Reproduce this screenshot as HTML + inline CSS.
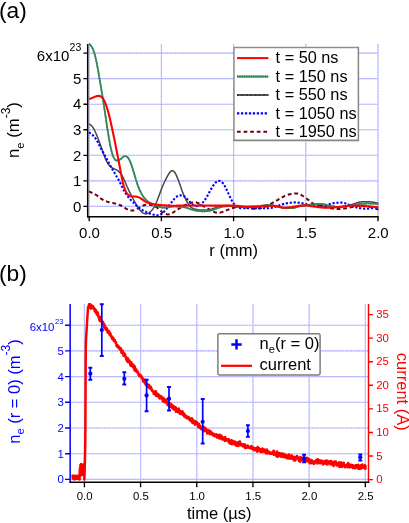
<!DOCTYPE html>
<html><head><meta charset="utf-8"><title>figure</title>
<style>html,body{margin:0;padding:0;background:#fff;}body{width:409px;height:523px;overflow:hidden;font-family:"Liberation Sans",sans-serif;}svg{display:block;will-change:transform;}</style></head>
<body>
<svg width="409" height="523" viewBox="0 0 409 523" font-family="Liberation Sans, sans-serif">
<rect width="409" height="523" fill="#fff" fill-opacity="0"/>
<g id="pa">
<path d="M89.2 206.40H378.0M89.2 180.85H378.0M89.2 155.30H378.0M89.2 129.75H378.0M89.2 104.20H378.0M89.2 78.65H378.0M89.2 53.10H378.0M89.20 44.0V216.7M161.40 44.0V216.7M233.60 44.0V216.7M305.80 44.0V216.7M378.00 44.0V216.7" stroke="#c4c4ff" stroke-width="1.1" fill="none"/>
<path d="M89.2 206.40H378.0M89.2 180.85H378.0M89.2 155.30H378.0M89.2 129.75H378.0M89.2 104.20H378.0M89.2 78.65H378.0M89.2 53.10H378.0M89.20 44.0V216.7M161.40 44.0V216.7M233.60 44.0V216.7M305.80 44.0V216.7M378.00 44.0V216.7" stroke="#adadff" stroke-width="1.1" fill="none" stroke-dasharray="1 1.6"/>
<clipPath id="ca"><rect x="88.60000000000001" y="43.0" width="290.0" height="173.7"/></clipPath>
<g clip-path="url(#ca)" fill="none" stroke-linejoin="round">
<path d="M88.9 191.5 L89.9 191.9 L90.9 192.3 L91.9 192.8 L92.9 193.2 L93.9 193.6 L94.9 194.2 L95.9 194.8 L96.9 195.5 L97.9 196.3 L98.9 197.2 L99.9 197.9 L100.9 198.6 L101.9 199.2 L102.9 199.8 L103.9 200.4 L104.9 200.9 L105.9 201.3 L106.9 201.6 L107.9 201.9 L108.9 202.2 L109.9 202.4 L110.9 202.6 L111.9 202.8 L112.9 203.0 L113.9 203.3 L114.9 203.5 L115.9 203.8 L116.9 204.1 L117.9 204.3 L118.9 204.7 L119.9 205.0 L120.9 205.5 L121.9 206.0 L122.9 206.6 L123.9 207.3 L124.9 207.9 L125.9 208.6 L126.9 209.1 L127.9 209.6 L128.9 210.0 L129.9 210.3 L130.9 210.4 L131.9 210.5 L132.9 210.4 L133.9 210.2 L134.9 209.8 L135.9 209.4 L136.9 208.9 L137.9 208.3 L138.9 207.7 L139.9 207.2 L140.9 206.6 L141.9 206.1 L142.9 205.7 L143.9 205.3 L144.9 205.0 L145.9 204.8 L146.9 204.7 L147.9 204.7 L148.9 204.7 L149.9 204.7 L150.9 204.9 L151.9 205.2 L152.9 205.4 L153.9 205.8 L154.9 206.2 L155.9 206.8 L156.9 207.5 L157.9 208.3 L158.9 209.3 L159.9 210.2 L160.9 211.1 L161.9 212.0 L162.9 212.7 L163.9 213.3 L164.9 213.8 L165.9 214.1 L166.9 214.3 L167.9 214.4 L168.9 214.3 L169.9 214.1 L170.9 213.7 L171.9 213.3 L172.9 212.7 L173.9 212.0 L174.9 211.3 L175.9 210.6 L176.9 209.9 L177.9 209.3 L178.9 208.7 L179.9 208.1 L180.9 207.4 L181.9 206.8 L182.9 206.3 L183.9 205.7 L184.9 205.2 L185.9 204.8 L186.9 204.3 L187.9 203.9 L188.9 203.5 L189.9 203.1 L190.9 202.9 L191.9 202.6 L192.9 202.4 L193.9 202.3 L194.9 202.2 L195.9 202.3 L196.9 202.6 L197.9 203.0 L198.9 203.5 L199.9 204.0 L200.9 204.6 L201.9 205.2 L202.9 205.8 L203.9 206.4 L204.9 207.0 L205.9 207.5 L206.9 208.1 L207.9 208.7 L208.9 209.2 L209.9 209.8 L210.9 210.4 L211.9 210.9 L212.9 211.5 L213.9 211.9 L214.9 212.3 L215.9 212.5 L216.9 212.7 L217.9 212.8 L218.9 212.8 L219.9 212.7 L220.9 212.4 L221.9 212.1 L222.9 211.8 L223.9 211.3 L224.9 210.9 L225.9 210.5 L226.9 210.1 L227.9 209.8 L228.9 209.4 L229.9 209.0 L230.9 208.7 L231.9 208.3 L232.9 208.0 L233.9 207.7 L234.9 207.4 L235.9 207.2 L236.9 207.0 L237.9 206.9 L238.9 206.8 L239.9 206.7 L240.9 206.8 L241.9 206.9 L242.9 207.0 L243.9 207.1 L244.9 207.3 L245.9 207.5 L246.9 207.8 L247.9 208.1 L248.9 208.3 L249.9 208.5 L250.9 208.6 L251.9 208.7 L252.9 208.7 L253.9 208.7 L254.9 208.7 L255.9 208.7 L256.9 208.7 L257.9 208.6 L258.9 208.5 L259.9 208.3 L260.9 208.1 L261.9 207.9 L262.9 207.6 L263.9 207.3 L264.9 206.9 L265.9 206.5 L266.9 206.0 L267.9 205.5 L268.9 205.0 L269.9 204.4 L270.9 203.8 L271.9 203.2 L272.9 202.6 L273.9 202.0 L274.9 201.5 L275.9 200.9 L276.9 200.3 L277.9 199.8 L278.9 199.2 L279.9 198.7 L280.9 198.1 L281.9 197.5 L282.9 197.0 L283.9 196.4 L284.9 195.9 L285.9 195.5 L286.9 195.1 L287.9 194.8 L288.9 194.5 L289.9 194.2 L290.9 194.0 L291.9 193.8 L292.9 193.7 L293.9 193.6 L294.9 193.5 L295.9 193.5 L296.9 193.5 L297.9 193.7 L298.9 194.0 L299.9 194.3 L300.9 194.8 L301.9 195.4 L302.9 196.0 L303.9 196.7 L304.9 197.4 L305.9 198.1 L306.9 198.8 L307.9 199.6 L308.9 200.3 L309.9 201.1 L310.9 201.9 L311.9 202.7 L312.9 203.4 L313.9 204.0 L314.9 204.5 L315.9 204.9 L316.9 205.2 L317.9 205.4 L318.9 205.6 L319.9 205.8 L320.9 205.9 L321.9 206.1 L322.9 206.2 L323.9 206.3 L324.9 206.5 L325.9 206.8 L326.9 207.0 L327.9 207.4 L328.9 207.7 L329.9 208.0 L330.9 208.3 L331.9 208.4 L332.9 208.6 L333.9 208.7 L334.9 208.8 L335.9 208.8 L336.9 208.9 L337.9 208.9 L338.9 209.0 L339.9 209.0 L340.9 208.9 L341.9 208.9 L342.9 208.8 L343.9 208.6 L344.9 208.5 L345.9 208.3 L346.9 208.1 L347.9 207.9 L348.9 207.7 L349.9 207.5 L350.9 207.3 L351.9 207.1 L352.9 206.9 L353.9 206.6 L354.9 206.4 L355.9 206.3 L356.9 206.1 L357.9 206.0 L358.9 206.0 L359.9 205.9 L360.9 205.9 L361.9 205.9 L362.9 205.8 L363.9 205.8 L364.9 205.8 L365.9 205.8 L366.9 206.0 L367.9 206.1 L368.9 206.4 L369.9 206.8 L370.9 207.1 L371.9 207.5 L372.9 207.8 L373.9 208.1 L374.9 208.4 L375.9 208.7 L376.9 209.1 L377.9 209.4 L378.8 209.7" stroke="#70000c" stroke-width="2" stroke-dasharray="3.8 2.8"/>
<path d="M88.9 124.1 L89.9 124.4 L90.9 125.2 L91.9 126.1 L92.9 127.4 L93.9 129.0 L94.9 131.0 L95.9 133.2 L96.9 135.6 L97.9 138.2 L98.9 140.8 L99.9 143.5 L100.9 146.3 L101.9 149.1 L102.9 151.9 L103.9 154.8 L104.9 157.4 L105.9 159.9 L106.9 161.9 L107.9 163.7 L108.9 165.0 L109.9 166.1 L110.9 167.0 L111.9 167.6 L112.9 168.2 L113.9 168.6 L114.9 169.1 L115.9 169.6 L116.9 170.1 L117.9 170.8 L118.9 171.6 L119.9 172.6 L120.9 173.9 L121.9 175.4 L122.9 177.2 L123.9 179.2 L124.9 181.5 L125.9 183.8 L126.9 186.2 L127.9 188.4 L128.9 190.6 L129.9 192.6 L130.9 194.7 L131.9 196.6 L132.9 198.5 L133.9 200.4 L134.9 202.2 L135.9 204.0 L136.9 205.7 L137.9 207.3 L138.9 208.8 L139.9 210.1 L140.9 211.2 L141.9 212.2 L142.9 212.9 L143.9 213.4 L144.9 213.7 L145.9 213.8 L146.9 213.7 L147.9 213.4 L148.9 212.9 L149.9 212.2 L150.9 211.3 L151.9 210.2 L152.9 208.9 L153.9 207.4 L154.9 205.6 L155.9 203.5 L156.9 201.2 L157.9 198.6 L158.9 196.0 L159.9 193.3 L160.9 190.6 L161.9 188.0 L162.9 185.5 L163.9 183.3 L164.9 181.2 L165.9 179.2 L166.9 177.2 L167.9 175.4 L168.9 173.7 L169.9 172.3 L170.9 171.3 L171.9 170.7 L172.9 170.8 L173.9 171.4 L174.9 172.6 L175.9 174.4 L176.9 176.6 L177.9 179.1 L178.9 181.7 L179.9 184.5 L180.9 187.3 L181.9 190.2 L182.9 192.9 L183.9 195.4 L184.9 197.7 L185.9 199.7 L186.9 201.6 L187.9 203.4 L188.9 204.9 L189.9 206.2 L190.9 207.1 L191.9 207.8 L192.9 208.3 L193.9 208.7 L194.9 209.0 L195.9 209.3 L196.9 209.5 L197.9 209.7 L198.9 209.9 L199.9 210.0 L200.9 210.1 L201.9 210.1 L202.9 210.1 L203.9 210.1 L204.9 210.1 L205.9 210.1 L206.9 210.0 L207.9 209.9 L208.9 209.7 L209.9 209.5 L210.9 209.3 L211.9 209.0 L212.9 208.6 L213.9 208.2 L214.9 207.9 L215.9 207.5 L216.9 207.2 L217.9 207.0 L218.9 206.8 L219.9 206.6 L220.9 206.3 L221.9 206.1 L222.9 206.0 L223.9 205.8 L224.9 205.7 L225.9 205.6 L226.9 205.6 L227.9 205.5 L228.9 205.6 L229.9 205.7 L230.9 205.9 L231.9 206.0 L232.9 206.2 L233.9 206.3 L234.9 206.5 L235.9 206.6 L236.9 206.7 L237.9 206.8 L238.9 206.9 L239.9 207.0 L240.9 207.1 L241.9 207.1 L242.9 207.1 L243.9 207.1 L244.9 207.1 L245.9 207.0 L246.9 207.0 L247.9 207.0 L248.9 207.0 L249.9 206.9 L250.9 206.9 L251.9 206.8 L252.9 206.8 L253.9 206.7 L254.9 206.7 L255.9 206.6 L256.9 206.5 L257.9 206.4 L258.9 206.3 L259.9 206.2 L260.9 206.0 L261.9 205.9 L262.9 205.8 L263.9 205.6 L264.9 205.5 L265.9 205.4 L266.9 205.4 L267.9 205.3 L268.9 205.3 L269.9 205.4 L270.9 205.4 L271.9 205.5 L272.9 205.6 L273.9 205.7 L274.9 205.9 L275.9 206.0 L276.9 206.2 L277.9 206.4 L278.9 206.7 L279.9 207.0 L280.9 207.2 L281.9 207.5 L282.9 207.7 L283.9 207.9 L284.9 208.0 L285.9 208.0 L286.9 208.0 L287.9 208.0 L288.9 208.0 L289.9 208.0 L290.9 208.0 L291.9 208.0 L292.9 207.9 L293.9 207.7 L294.9 207.5 L295.9 207.2 L296.9 206.9 L297.9 206.6 L298.9 206.3 L299.9 206.1 L300.9 205.9 L301.9 205.7 L302.9 205.6 L303.9 205.5 L304.9 205.3 L305.9 205.2 L306.9 205.1 L307.9 205.0 L308.9 204.8 L309.9 204.7 L310.9 204.6 L311.9 204.5 L312.9 204.4 L313.9 204.3 L314.9 204.2 L315.9 204.2 L316.9 204.1 L317.9 204.1 L318.9 204.1 L319.9 204.0 L320.9 204.0 L321.9 204.0 L322.9 204.1 L323.9 204.3 L324.9 204.5 L325.9 204.8 L326.9 205.2 L327.9 205.5 L328.9 205.7 L329.9 205.9 L330.9 206.1 L331.9 206.3 L332.9 206.4 L333.9 206.5 L334.9 206.7 L335.9 206.8 L336.9 206.9 L337.9 206.9 L338.9 207.0 L339.9 207.0 L340.9 206.9 L341.9 206.8 L342.9 206.7 L343.9 206.5 L344.9 206.3 L345.9 206.0 L346.9 205.8 L347.9 205.5 L348.9 205.3 L349.9 205.0 L350.9 204.7 L351.9 204.4 L352.9 204.1 L353.9 203.8 L354.9 203.4 L355.9 203.1 L356.9 202.8 L357.9 202.5 L358.9 202.3 L359.9 202.1 L360.9 201.9 L361.9 201.8 L362.9 201.7 L363.9 201.7 L364.9 201.7 L365.9 201.7 L366.9 201.7 L367.9 201.7 L368.9 201.7 L369.9 201.8 L370.9 201.9 L371.9 202.0 L372.9 202.2 L373.9 202.3 L374.9 202.5 L375.9 202.7 L376.9 202.9 L377.9 203.2 L378.8 203.4" stroke="#474747" stroke-width="1.5"/>
<path d="M88.9 132.4 L89.9 133.0 L90.9 133.7 L91.9 134.4 L92.9 135.3 L93.9 136.4 L94.9 137.6 L95.9 139.0 L96.9 140.5 L97.9 142.3 L98.9 144.3 L99.9 146.4 L100.9 148.4 L101.9 150.3 L102.9 152.1 L103.9 153.9 L104.9 155.6 L105.9 157.4 L106.9 159.2 L107.9 161.1 L108.9 163.1 L109.9 164.9 L110.9 166.7 L111.9 168.4 L112.9 170.1 L113.9 171.8 L114.9 173.6 L115.9 175.3 L116.9 177.0 L117.9 178.7 L118.9 180.4 L119.9 182.3 L120.9 184.3 L121.9 186.5 L122.9 188.5 L123.9 190.4 L124.9 192.1 L125.9 193.7 L126.9 195.1 L127.9 196.5 L128.9 197.8 L129.9 199.0 L130.9 200.1 L131.9 201.1 L132.9 202.1 L133.9 203.1 L134.9 204.1 L135.9 205.1 L136.9 206.1 L137.9 207.0 L138.9 207.9 L139.9 208.7 L140.9 209.4 L141.9 209.9 L142.9 210.4 L143.9 210.9 L144.9 211.4 L145.9 211.9 L146.9 212.4 L147.9 212.8 L148.9 213.2 L149.9 213.6 L150.9 213.9 L151.9 214.2 L152.9 214.5 L153.9 214.7 L154.9 214.9 L155.9 215.1 L156.9 215.2 L157.9 215.2 L158.9 215.1 L159.9 214.8 L160.9 214.3 L161.9 213.6 L162.9 212.8 L163.9 211.8 L164.9 210.7 L165.9 209.6 L166.9 208.4 L167.9 207.2 L168.9 205.8 L169.9 204.5 L170.9 203.2 L171.9 201.9 L172.9 200.6 L173.9 199.4 L174.9 198.2 L175.9 197.2 L176.9 196.5 L177.9 195.9 L178.9 195.6 L179.9 195.4 L180.9 195.4 L181.9 195.5 L182.9 195.7 L183.9 196.1 L184.9 196.8 L185.9 197.6 L186.9 198.8 L187.9 199.9 L188.9 201.0 L189.9 202.0 L190.9 202.9 L191.9 203.8 L192.9 204.6 L193.9 205.2 L194.9 205.7 L195.9 206.0 L196.9 206.1 L197.9 206.0 L198.9 205.7 L199.9 205.2 L200.9 204.5 L201.9 203.6 L202.9 202.4 L203.9 201.2 L204.9 199.8 L205.9 198.3 L206.9 196.7 L207.9 194.9 L208.9 193.1 L209.9 191.2 L210.9 189.4 L211.9 187.7 L212.9 186.1 L213.9 184.6 L214.9 183.4 L215.9 182.3 L216.9 181.6 L217.9 181.1 L218.9 180.9 L219.9 181.0 L220.9 181.4 L221.9 182.1 L222.9 183.2 L223.9 184.6 L224.9 186.3 L225.9 188.2 L226.9 190.2 L227.9 192.4 L228.9 194.6 L229.9 196.7 L230.9 198.8 L231.9 200.7 L232.9 202.4 L233.9 203.9 L234.9 205.1 L235.9 206.0 L236.9 206.8 L237.9 207.4 L238.9 207.8 L239.9 208.1 L240.9 208.2 L241.9 208.3 L242.9 208.3 L243.9 208.3 L244.9 208.3 L245.9 208.3 L246.9 208.2 L247.9 208.1 L248.9 208.0 L249.9 207.9 L250.9 207.9 L251.9 208.0 L252.9 208.0 L253.9 208.1 L254.9 208.1 L255.9 208.1 L256.9 208.2 L257.9 208.2 L258.9 208.2 L259.9 208.2 L260.9 208.3 L261.9 208.3 L262.9 208.3 L263.9 208.3 L264.9 208.3 L265.9 208.3 L266.9 208.2 L267.9 208.2 L268.9 208.1 L269.9 208.0 L270.9 207.9 L271.9 207.7 L272.9 207.6 L273.9 207.3 L274.9 207.0 L275.9 206.6 L276.9 206.2 L277.9 205.9 L278.9 205.5 L279.9 205.1 L280.9 204.8 L281.9 204.5 L282.9 204.1 L283.9 203.9 L284.9 203.6 L285.9 203.4 L286.9 203.2 L287.9 203.1 L288.9 202.9 L289.9 202.8 L290.9 202.7 L291.9 202.6 L292.9 202.5 L293.9 202.5 L294.9 202.4 L295.9 202.4 L296.9 202.5 L297.9 202.6 L298.9 202.7 L299.9 202.9 L300.9 203.1 L301.9 203.2 L302.9 203.4 L303.9 203.6 L304.9 203.8 L305.9 204.1 L306.9 204.3 L307.9 204.5 L308.9 204.7 L309.9 204.9 L310.9 205.1 L311.9 205.2 L312.9 205.4 L313.9 205.5 L314.9 205.6 L315.9 205.7 L316.9 205.8 L317.9 205.8 L318.9 205.8 L319.9 205.9 L320.9 205.9 L321.9 205.8 L322.9 205.7 L323.9 205.6 L324.9 205.3 L325.9 205.0 L326.9 204.7 L327.9 204.4 L328.9 204.2 L329.9 203.9 L330.9 203.7 L331.9 203.5 L332.9 203.3 L333.9 203.1 L334.9 203.0 L335.9 202.9 L336.9 202.8 L337.9 202.7 L338.9 202.6 L339.9 202.5 L340.9 202.6 L341.9 202.6 L342.9 202.8 L343.9 203.0 L344.9 203.2 L345.9 203.5 L346.9 203.8 L347.9 204.2 L348.9 204.7 L349.9 205.1 L350.9 205.6 L351.9 206.0 L352.9 206.3 L353.9 206.6 L354.9 207.0 L355.9 207.2 L356.9 207.5 L357.9 207.7 L358.9 207.9 L359.9 208.1 L360.9 208.2 L361.9 208.4 L362.9 208.5 L363.9 208.6 L364.9 208.6 L365.9 208.7 L366.9 208.7 L367.9 208.6 L368.9 208.5 L369.9 208.4 L370.9 208.3 L371.9 208.2 L372.9 208.0 L373.9 207.9 L374.9 207.8 L375.9 207.7 L376.9 207.6 L377.9 207.4 L378.8 207.3" stroke="#0000ff" stroke-width="2.1" stroke-dasharray="2.2 1.75"/>
<path d="M88.9 43.9 L89.9 44.4 L90.9 45.7 L91.9 47.1 L92.9 49.1 L93.9 51.7 L94.9 55.0 L95.9 59.1 L96.9 63.9 L97.9 69.2 L98.9 74.9 L99.9 80.9 L100.9 86.9 L101.9 92.8 L102.9 98.9 L103.9 105.3 L104.9 112.0 L105.9 118.8 L106.9 125.5 L107.9 131.9 L108.9 138.0 L109.9 143.6 L110.9 148.5 L111.9 152.5 L112.9 155.7 L113.9 158.0 L114.9 159.5 L115.9 160.3 L116.9 160.6 L117.9 160.5 L118.9 160.2 L119.9 159.6 L120.9 158.8 L121.9 157.9 L122.9 157.1 L123.9 156.5 L124.9 156.2 L125.9 156.2 L126.9 156.7 L127.9 157.6 L128.9 159.1 L129.9 161.0 L130.9 163.4 L131.9 166.2 L132.9 169.4 L133.9 172.7 L134.9 176.2 L135.9 179.6 L136.9 182.7 L137.9 185.6 L138.9 188.2 L139.9 190.5 L140.9 192.6 L141.9 194.5 L142.9 196.1 L143.9 197.5 L144.9 198.7 L145.9 199.7 L146.9 200.6 L147.9 201.4 L148.9 202.1 L149.9 202.7 L150.9 203.3 L151.9 203.8 L152.9 204.3 L153.9 204.7 L154.9 205.1 L155.9 205.5 L156.9 205.9 L157.9 206.3 L158.9 206.6 L159.9 206.9 L160.9 207.2 L161.9 207.4 L162.9 207.6 L163.9 207.6 L164.9 207.6 L165.9 207.5 L166.9 207.4 L167.9 207.3 L168.9 207.2 L169.9 207.0 L170.9 206.9 L171.9 206.7 L172.9 206.6 L173.9 206.5 L174.9 206.4 L175.9 206.5 L176.9 206.5 L177.9 206.6 L178.9 206.7 L179.9 206.8 L180.9 206.9 L181.9 207.0 L182.9 207.1 L183.9 207.2 L184.9 207.3 L185.9 207.6 L186.9 207.9 L187.9 208.2 L188.9 208.6 L189.9 208.9 L190.9 209.3 L191.9 209.6 L192.9 209.9 L193.9 210.2 L194.9 210.4 L195.9 210.6 L196.9 210.8 L197.9 210.9 L198.9 211.0 L199.9 211.1 L200.9 211.2 L201.9 211.3 L202.9 211.3 L203.9 211.3 L204.9 211.3 L205.9 211.2 L206.9 211.2 L207.9 211.1 L208.9 211.0 L209.9 210.8 L210.9 210.5 L211.9 210.2 L212.9 209.9 L213.9 209.5 L214.9 209.1 L215.9 208.7 L216.9 208.3 L217.9 208.0 L218.9 207.6 L219.9 207.4 L220.9 207.1 L221.9 206.8 L222.9 206.6 L223.9 206.5 L224.9 206.3 L225.9 206.3 L226.9 206.2 L227.9 206.2 L228.9 206.1 L229.9 206.1 L230.9 206.1 L231.9 206.1 L232.9 206.1 L233.9 206.1 L234.9 206.2 L235.9 206.2 L236.9 206.2 L237.9 206.3 L238.9 206.3 L239.9 206.4 L240.9 206.4 L241.9 206.4 L242.9 206.5 L243.9 206.5 L244.9 206.5 L245.9 206.5 L246.9 206.5 L247.9 206.5 L248.9 206.5 L249.9 206.5 L250.9 206.4 L251.9 206.4 L252.9 206.4 L253.9 206.4 L254.9 206.3 L255.9 206.3 L256.9 206.3 L257.9 206.2 L258.9 206.1 L259.9 206.0 L260.9 205.9 L261.9 205.7 L262.9 205.6 L263.9 205.4 L264.9 205.3 L265.9 205.2 L266.9 205.1 L267.9 205.0 L268.9 205.0 L269.9 205.1 L270.9 205.1 L271.9 205.2 L272.9 205.3 L273.9 205.5 L274.9 205.6 L275.9 205.8 L276.9 206.0 L277.9 206.3 L278.9 206.6 L279.9 207.0 L280.9 207.4 L281.9 207.7 L282.9 208.0 L283.9 208.1 L284.9 208.2 L285.9 208.2 L286.9 208.2 L287.9 208.2 L288.9 208.2 L289.9 208.2 L290.9 208.2 L291.9 208.2 L292.9 208.1 L293.9 207.9 L294.9 207.6 L295.9 207.3 L296.9 207.0 L297.9 206.7 L298.9 206.4 L299.9 206.2 L300.9 206.0 L301.9 205.9 L302.9 205.7 L303.9 205.6 L304.9 205.5 L305.9 205.4 L306.9 205.2 L307.9 205.1 L308.9 205.0 L309.9 204.9 L310.9 204.7 L311.9 204.6 L312.9 204.6 L313.9 204.5 L314.9 204.4 L315.9 204.4 L316.9 204.3 L317.9 204.3 L318.9 204.3 L319.9 204.2 L320.9 204.2 L321.9 204.2 L322.9 204.3 L323.9 204.5 L324.9 204.7 L325.9 205.0 L326.9 205.2 L327.9 205.5 L328.9 205.8 L329.9 206.0 L330.9 206.1 L331.9 206.3 L332.9 206.4 L333.9 206.5 L334.9 206.7 L335.9 206.8 L336.9 206.8 L337.9 206.9 L338.9 207.0 L339.9 207.0 L340.9 206.9 L341.9 206.9 L342.9 206.8 L343.9 206.6 L344.9 206.5 L345.9 206.3 L346.9 206.1 L347.9 205.9 L348.9 205.7 L349.9 205.5 L350.9 205.3 L351.9 205.2 L352.9 205.0 L353.9 204.8 L354.9 204.6 L355.9 204.5 L356.9 204.3 L357.9 204.2 L358.9 204.1 L359.9 203.9 L360.9 203.8 L361.9 203.7 L362.9 203.6 L363.9 203.5 L364.9 203.5 L365.9 203.4 L366.9 203.4 L367.9 203.4 L368.9 203.4 L369.9 203.5 L370.9 203.5 L371.9 203.5 L372.9 203.6 L373.9 203.7 L374.9 203.7 L375.9 203.8 L376.9 203.9 L377.9 204.1 L378.8 204.2" stroke="#409668" stroke-width="1.75"/>
<path d="M88.9 43.9 L89.9 44.4 L90.9 45.7 L91.9 47.1 L92.9 49.1 L93.9 51.7 L94.9 55.0 L95.9 59.1 L96.9 63.9 L97.9 69.2 L98.9 74.9 L99.9 80.9 L100.9 86.9 L101.9 92.8 L102.9 98.9 L103.9 105.3 L104.9 112.0 L105.9 118.8 L106.9 125.5 L107.9 131.9 L108.9 138.0 L109.9 143.6 L110.9 148.5 L111.9 152.5 L112.9 155.7 L113.9 158.0 L114.9 159.5 L115.9 160.3 L116.9 160.6 L117.9 160.5 L118.9 160.2 L119.9 159.6 L120.9 158.8 L121.9 157.9 L122.9 157.1 L123.9 156.5 L124.9 156.2 L125.9 156.2 L126.9 156.7 L127.9 157.6 L128.9 159.1 L129.9 161.0 L130.9 163.4 L131.9 166.2 L132.9 169.4 L133.9 172.7 L134.9 176.2 L135.9 179.6 L136.9 182.7 L137.9 185.6 L138.9 188.2 L139.9 190.5 L140.9 192.6 L141.9 194.5 L142.9 196.1 L143.9 197.5 L144.9 198.7 L145.9 199.7 L146.9 200.6 L147.9 201.4 L148.9 202.1 L149.9 202.7 L150.9 203.3 L151.9 203.8 L152.9 204.3 L153.9 204.7 L154.9 205.1 L155.9 205.5 L156.9 205.9 L157.9 206.3 L158.9 206.6 L159.9 206.9 L160.9 207.2 L161.9 207.4 L162.9 207.6 L163.9 207.6 L164.9 207.6 L165.9 207.5 L166.9 207.4 L167.9 207.3 L168.9 207.2 L169.9 207.0 L170.9 206.9 L171.9 206.7 L172.9 206.6 L173.9 206.5 L174.9 206.4 L175.9 206.5 L176.9 206.5 L177.9 206.6 L178.9 206.7 L179.9 206.8 L180.9 206.9 L181.9 207.0 L182.9 207.1 L183.9 207.2 L184.9 207.3 L185.9 207.6 L186.9 207.9 L187.9 208.2 L188.9 208.6 L189.9 208.9 L190.9 209.3 L191.9 209.6 L192.9 209.9 L193.9 210.2 L194.9 210.4 L195.9 210.6 L196.9 210.8 L197.9 210.9 L198.9 211.0 L199.9 211.1 L200.9 211.2 L201.9 211.3 L202.9 211.3 L203.9 211.3 L204.9 211.3 L205.9 211.2 L206.9 211.2 L207.9 211.1 L208.9 211.0 L209.9 210.8 L210.9 210.5 L211.9 210.2 L212.9 209.9 L213.9 209.5 L214.9 209.1 L215.9 208.7 L216.9 208.3 L217.9 208.0 L218.9 207.6 L219.9 207.4 L220.9 207.1 L221.9 206.8 L222.9 206.6 L223.9 206.5 L224.9 206.3 L225.9 206.3 L226.9 206.2 L227.9 206.2 L228.9 206.1 L229.9 206.1 L230.9 206.1 L231.9 206.1 L232.9 206.1 L233.9 206.1 L234.9 206.2 L235.9 206.2 L236.9 206.2 L237.9 206.3 L238.9 206.3 L239.9 206.4 L240.9 206.4 L241.9 206.4 L242.9 206.5 L243.9 206.5 L244.9 206.5 L245.9 206.5 L246.9 206.5 L247.9 206.5 L248.9 206.5 L249.9 206.5 L250.9 206.4 L251.9 206.4 L252.9 206.4 L253.9 206.4 L254.9 206.3 L255.9 206.3 L256.9 206.3 L257.9 206.2 L258.9 206.1 L259.9 206.0 L260.9 205.9 L261.9 205.7 L262.9 205.6 L263.9 205.4 L264.9 205.3 L265.9 205.2 L266.9 205.1 L267.9 205.0 L268.9 205.0 L269.9 205.1 L270.9 205.1 L271.9 205.2 L272.9 205.3 L273.9 205.5 L274.9 205.6 L275.9 205.8 L276.9 206.0 L277.9 206.3 L278.9 206.6 L279.9 207.0 L280.9 207.4 L281.9 207.7 L282.9 208.0 L283.9 208.1 L284.9 208.2 L285.9 208.2 L286.9 208.2 L287.9 208.2 L288.9 208.2 L289.9 208.2 L290.9 208.2 L291.9 208.2 L292.9 208.1 L293.9 207.9 L294.9 207.6 L295.9 207.3 L296.9 207.0 L297.9 206.7 L298.9 206.4 L299.9 206.2 L300.9 206.0 L301.9 205.9 L302.9 205.7 L303.9 205.6 L304.9 205.5 L305.9 205.4 L306.9 205.2 L307.9 205.1 L308.9 205.0 L309.9 204.9 L310.9 204.7 L311.9 204.6 L312.9 204.6 L313.9 204.5 L314.9 204.4 L315.9 204.4 L316.9 204.3 L317.9 204.3 L318.9 204.3 L319.9 204.2 L320.9 204.2 L321.9 204.2 L322.9 204.3 L323.9 204.5 L324.9 204.7 L325.9 205.0 L326.9 205.2 L327.9 205.5 L328.9 205.8 L329.9 206.0 L330.9 206.1 L331.9 206.3 L332.9 206.4 L333.9 206.5 L334.9 206.7 L335.9 206.8 L336.9 206.8 L337.9 206.9 L338.9 207.0 L339.9 207.0 L340.9 206.9 L341.9 206.9 L342.9 206.8 L343.9 206.6 L344.9 206.5 L345.9 206.3 L346.9 206.1 L347.9 205.9 L348.9 205.7 L349.9 205.5 L350.9 205.3 L351.9 205.2 L352.9 205.0 L353.9 204.8 L354.9 204.6 L355.9 204.5 L356.9 204.3 L357.9 204.2 L358.9 204.1 L359.9 203.9 L360.9 203.8 L361.9 203.7 L362.9 203.6 L363.9 203.5 L364.9 203.5 L365.9 203.4 L366.9 203.4 L367.9 203.4 L368.9 203.4 L369.9 203.5 L370.9 203.5 L371.9 203.5 L372.9 203.6 L373.9 203.7 L374.9 203.7 L375.9 203.8 L376.9 203.9 L377.9 204.1 L378.8 204.2" stroke="#277f50" stroke-width="1.75" stroke-dasharray="1 0.75"/>
<path d="M88.9 98.9 L89.9 98.7 L90.9 98.4 L91.9 98.0 L92.9 97.6 L93.9 97.2 L94.9 96.8 L95.9 96.4 L96.9 96.1 L97.9 96.0 L98.9 95.9 L99.9 96.1 L100.9 96.5 L101.9 97.3 L102.9 98.4 L103.9 100.0 L104.9 102.1 L105.9 104.5 L106.9 107.5 L107.9 110.8 L108.9 114.5 L109.9 118.5 L110.9 122.9 L111.9 127.5 L112.9 132.2 L113.9 136.9 L114.9 141.8 L115.9 146.9 L116.9 152.0 L117.9 157.1 L118.9 162.2 L119.9 167.5 L120.9 172.9 L121.9 178.1 L122.9 182.7 L123.9 186.5 L124.9 189.4 L125.9 191.7 L126.9 193.3 L127.9 194.5 L128.9 195.4 L129.9 195.9 L130.9 196.2 L131.9 196.4 L132.9 196.5 L133.9 196.5 L134.9 196.5 L135.9 196.6 L136.9 196.8 L137.9 197.0 L138.9 197.4 L139.9 197.9 L140.9 198.5 L141.9 199.2 L142.9 199.9 L143.9 200.7 L144.9 201.3 L145.9 201.9 L146.9 202.4 L147.9 202.8 L148.9 203.2 L149.9 203.5 L150.9 203.7 L151.9 203.9 L152.9 204.1 L153.9 204.3 L154.9 204.5 L155.9 204.6 L156.9 204.7 L157.9 204.8 L158.9 204.9 L159.9 205.0 L160.9 205.1 L161.9 205.2 L162.9 205.3 L163.9 205.3 L164.9 205.4 L165.9 205.4 L166.9 205.5 L167.9 205.5 L168.9 205.6 L169.9 205.6 L170.9 205.7 L171.9 205.7 L172.9 205.7 L173.9 205.7 L174.9 205.7 L175.9 205.7 L176.9 205.6 L177.9 205.6 L178.9 205.6 L179.9 205.6 L180.9 205.5 L181.9 205.5 L182.9 205.5 L183.9 205.5 L184.9 205.5 L185.9 205.5 L186.9 205.5 L187.9 205.5 L188.9 205.5 L189.9 205.5 L190.9 205.5 L191.9 205.5 L192.9 205.5 L193.9 205.5 L194.9 205.5 L195.9 205.5 L196.9 205.5 L197.9 205.5 L198.9 205.5 L199.9 205.5 L200.9 205.5 L201.9 205.5 L202.9 205.5 L203.9 205.5 L204.9 205.5 L205.9 205.5 L206.9 205.5 L207.9 205.5 L208.9 205.5 L209.9 205.5 L210.9 205.6 L211.9 205.6 L212.9 205.6 L213.9 205.6 L214.9 205.6 L215.9 205.6 L216.9 205.6 L217.9 205.6 L218.9 205.6 L219.9 205.6 L220.9 205.6 L221.9 205.6 L222.9 205.6 L223.9 205.6 L224.9 205.6 L225.9 205.6 L226.9 205.6 L227.9 205.6 L228.9 205.6 L229.9 205.6 L230.9 205.6 L231.9 205.6 L232.9 205.6 L233.9 205.6 L234.9 205.7 L235.9 205.7 L236.9 205.8 L237.9 206.0 L238.9 206.1 L239.9 206.2 L240.9 206.4 L241.9 206.5 L242.9 206.6 L243.9 206.6 L244.9 206.7 L245.9 206.7 L246.9 206.7 L247.9 206.7 L248.9 206.7 L249.9 206.7 L250.9 206.7 L251.9 206.7 L252.9 206.7 L253.9 206.7 L254.9 206.7 L255.9 206.7 L256.9 206.7 L257.9 206.6 L258.9 206.6 L259.9 206.5 L260.9 206.4 L261.9 206.3 L262.9 206.2 L263.9 206.0 L264.9 205.9 L265.9 205.8 L266.9 205.8 L267.9 205.7 L268.9 205.7 L269.9 205.7 L270.9 205.8 L271.9 205.9 L272.9 205.9 L273.9 206.0 L274.9 206.2 L275.9 206.3 L276.9 206.4 L277.9 206.6 L278.9 206.8 L279.9 207.0 L280.9 207.2 L281.9 207.4 L282.9 207.6 L283.9 207.7 L284.9 207.7 L285.9 207.6 L286.9 207.6 L287.9 207.5 L288.9 207.4 L289.9 207.3 L290.9 207.2 L291.9 207.1 L292.9 206.9 L293.9 206.8 L294.9 206.6 L295.9 206.4 L296.9 206.2 L297.9 206.0 L298.9 205.8 L299.9 205.7 L300.9 205.6 L301.9 205.6 L302.9 205.5 L303.9 205.4 L304.9 205.4 L305.9 205.4 L306.9 205.5 L307.9 205.6 L308.9 205.7 L309.9 205.9 L310.9 206.1 L311.9 206.2 L312.9 206.4 L313.9 206.5 L314.9 206.7 L315.9 206.8 L316.9 206.9 L317.9 207.1 L318.9 207.2 L319.9 207.3 L320.9 207.4 L321.9 207.5 L322.9 207.6 L323.9 207.7 L324.9 207.7 L325.9 207.7 L326.9 207.7 L327.9 207.7 L328.9 207.6 L329.9 207.6 L330.9 207.5 L331.9 207.5 L332.9 207.4 L333.9 207.4 L334.9 207.3 L335.9 207.3 L336.9 207.2 L337.9 207.1 L338.9 207.0 L339.9 206.8 L340.9 206.7 L341.9 206.6 L342.9 206.4 L343.9 206.3 L344.9 206.2 L345.9 206.1 L346.9 206.0 L347.9 205.9 L348.9 205.8 L349.9 205.7 L350.9 205.7 L351.9 205.6 L352.9 205.6 L353.9 205.6 L354.9 205.6 L355.9 205.6 L356.9 205.7 L357.9 205.7 L358.9 205.7 L359.9 205.8 L360.9 205.8 L361.9 205.9 L362.9 205.9 L363.9 206.0 L364.9 206.0 L365.9 206.1 L366.9 206.2 L367.9 206.3 L368.9 206.4 L369.9 206.5 L370.9 206.6 L371.9 206.7 L372.9 206.8 L373.9 206.9 L374.9 207.0 L375.9 207.0 L376.9 207.1 L377.9 207.2 L378.8 207.3" stroke="#ff0000" stroke-width="2.1"/>
</g>
<path d="M87.7 44.0V217.45" stroke="#000" stroke-width="1.5" fill="none"/>
<path d="M86.95 216.7H378.7" stroke="#000" stroke-width="1.5" fill="none"/>
<path d="M83.4 206.40H87.7M83.4 180.85H87.7M83.4 155.30H87.7M83.4 129.75H87.7M83.4 104.20H87.7M83.4 78.65H87.7M83.4 53.10H87.7M89.20 216.7V221.3M161.40 216.7V221.3M233.60 216.7V221.3M305.80 216.7V221.3M378.00 216.7V221.3" stroke="#000" stroke-width="1.35" fill="none"/>
<g font-size="15.0" fill="#000">
<text x="81.3" y="211.65" text-anchor="end">0</text>
<text x="81.3" y="186.10" text-anchor="end">1</text>
<text x="81.3" y="160.55" text-anchor="end">2</text>
<text x="81.3" y="135.00" text-anchor="end">3</text>
<text x="81.3" y="109.45" text-anchor="end">4</text>
<text x="81.3" y="83.90" text-anchor="end">5</text>
<text x="69.4" y="61.1" text-anchor="end">6x10</text>
<text x="69.6" y="51.3" font-size="10.5">23</text>
<text x="89.50" y="237.9" text-anchor="middle">0.0</text>
<text x="161.70" y="237.9" text-anchor="middle">0.5</text>
<text x="233.90" y="237.9" text-anchor="middle">1.0</text>
<text x="306.10" y="237.9" text-anchor="middle">1.5</text>
<text x="378.30" y="237.9" text-anchor="middle">2.0</text>
</g>
<text x="233.6" y="255.6" font-size="16.5" text-anchor="middle">r (mm)</text>
<text transform="translate(19.3 130.0) rotate(-90)" font-size="16.7" text-anchor="middle">n<tspan font-size="11.2" dy="4.2">e</tspan><tspan dy="-4.2"> (m</tspan><tspan font-size="12" dy="-9.4">-3</tspan><tspan dy="9.4">)</tspan></text>
<text x="-1" y="18.3" font-size="22.8">(a)</text>
<g id="lega">
<rect x="234" y="47.5" width="124.4" height="92.7" fill="#fff" stroke="none"/>
<path d="M233.3 141.2H359.1" stroke="#cfcfcf" stroke-width="1" fill="none"/>
<path d="M234 140.9V47.5H358.4" stroke="#8e8e8e" stroke-width="1.4" fill="none"/>
<path d="M358.4 46.8V140.2H233.3" stroke="#868686" stroke-width="1.5" fill="none"/>
<path d="M237 58.1H268.4" stroke="#ff0000" stroke-width="2"/>
<path d="M237 76.6H268.4" stroke="#409668" stroke-width="2"/>
<path d="M237 76.6H268.4" stroke="#277f50" stroke-width="2" stroke-dasharray="1 0.75"/>
<path d="M237 95.0H268.4" stroke="#6e6e6e" stroke-width="1.8"/>
<path d="M237 95.0H268.4" stroke="#3a3a3a" stroke-width="1.8" stroke-dasharray="2.4 0.5 0.9 0.5"/>
<path d="M237 113.4H268.4" stroke="#0000ff" stroke-width="2.1" stroke-dasharray="2.3 1.65"/>
<path d="M237 131.8H268.4" stroke="#70000c" stroke-width="2" stroke-dasharray="3.7 2.9"/>
<g font-size="16.3" fill="#000">
<text x="275.6" y="63.3">t = 50 ns</text>
<text x="275.6" y="81.8">t = 150 ns</text>
<text x="275.6" y="100.2">t = 550 ns</text>
<text x="275.6" y="118.6">t = 1050 ns</text>
<text x="275.6" y="137.0">t = 1950 ns</text>
</g></g>
</g>
<g id="pb">
<path d="M70.2 479.40H368.5M70.2 453.70H368.5M70.2 428.00H368.5M70.2 402.30H368.5M70.2 376.60H368.5M70.2 350.90H368.5M70.2 325.20H368.5M84.40 304.0V482.3M140.58 304.0V482.3M196.76 304.0V482.3M252.94 304.0V482.3M309.12 304.0V482.3M365.30 304.0V482.3" stroke="#c4c4ff" stroke-width="1.1" fill="none"/>
<path d="M70.2 479.40H368.5M70.2 453.70H368.5M70.2 428.00H368.5M70.2 402.30H368.5M70.2 376.60H368.5M70.2 350.90H368.5M70.2 325.20H368.5M84.40 304.0V482.3M140.58 304.0V482.3M196.76 304.0V482.3M252.94 304.0V482.3M309.12 304.0V482.3M365.30 304.0V482.3" stroke="#adadff" stroke-width="1.1" fill="none" stroke-dasharray="1 1.6"/>
<clipPath id="cb"><rect x="70.15" y="302.8" width="298.35" height="179.5"/></clipPath>
<g clip-path="url(#cb)">
<path d="M72.4 476.3 L72.6 475.7 L72.8 477.5 L73.0 478.5 L73.2 477.3 L73.4 477.5 L73.6 475.7 L73.8 477.5 L74.0 479.4 L74.2 479.0 L74.4 478.5 L74.6 476.0 L74.8 479.2 L75.0 479.0 L75.2 476.3 L75.4 478.1 L75.6 475.7 L75.8 476.1 L76.0 476.9 L76.2 476.2 L76.4 478.6 L76.6 478.9 L76.8 477.0 L77.0 476.9 L77.2 476.0 L77.4 475.9 L77.6 478.5 L77.8 478.0 L78.0 475.8 L78.2 477.5 L78.4 477.2 L78.6 479.0 L78.8 478.5 L79.0 478.0 L79.2 477.8 L79.4 479.4 L79.6 479.5 L79.8 470.0 L80.0 468.3 L80.2 475.7 L80.4 465.0 L80.6 468.9 L80.8 464.5 L81.0 467.7 L81.2 464.0 L81.4 466.8 L81.6 473.7 L81.8 475.2 L82.0 473.6 L82.2 470.4 L82.4 471.2 L82.6 467.8 L82.8 465.2 L83.0 469.2 L83.2 473.6 L83.4 464.5 L83.6 464.3 L83.8 475.1 L84.0 468.9 L84.2 474.9 L84.4 479.4 L84.5 476.2 L84.6 472.2 L84.7 468.3 L84.8 464.5 L84.9 460.2 L85.0 456.0 L85.1 451.9 L85.2 446.8 L85.3 440.4 L85.4 426.0 L85.5 404.2 L85.6 380.0 L85.7 358.8 L85.8 348.1 L85.9 344.1 L86.0 341.1 L86.1 338.2 L86.2 336.1 L86.3 334.9 L86.4 333.1 L86.5 331.8 L86.6 330.5 L86.7 328.7 L86.8 326.9 L86.9 324.8 L87.0 323.3 L87.1 321.4 L87.2 319.5 L87.3 317.8 L87.4 317.7 L87.5 315.7 L87.6 313.8 L88.0 307.4 L88.5 306.1 L89.0 304.3 L89.4 307.4 L89.9 303.9 L90.3 307.4 L90.8 308.6 L91.2 304.9 L91.7 305.6 L92.1 306.1 L92.6 308.2 L93.0 306.2 L93.5 307.7 L93.9 307.7 L94.4 308.7 L94.8 311.6 L95.0 308.9 L95.3 310.6 L95.6 311.3 L95.9 312.5 L96.2 310.5 L96.5 313.8 L96.8 313.5 L97.1 314.6 L97.4 314.1 L97.7 312.6 L98.0 314.3 L98.3 316.6 L98.6 316.2 L98.9 316.6 L99.2 319.4 L99.5 320.2 L99.8 318.2 L100.1 321.1 L100.4 316.9 L100.7 317.3 L101.0 321.3 L101.3 320.5 L101.6 322.0 L101.9 322.4 L102.2 322.2 L102.5 323.6 L102.8 323.4 L103.1 321.9 L103.4 324.4 L103.7 324.8 L104.0 327.3 L104.3 324.2 L104.6 326.0 L104.9 326.0 L105.2 326.8 L105.5 329.4 L105.8 328.3 L106.1 327.8 L106.4 329.0 L106.7 330.2 L107.0 328.5 L107.3 329.9 L107.6 332.5 L107.9 332.2 L108.2 331.5 L108.5 331.5 L108.8 332.3 L109.1 331.1 L109.4 334.6 L109.7 334.3 L110.0 334.5 L110.3 333.2 L110.6 334.4 L110.9 336.3 L111.2 336.4 L111.5 336.0 L111.8 337.6 L112.1 338.6 L112.4 337.1 L112.7 337.7 L113.0 337.8 L113.3 337.9 L113.6 340.7 L113.9 340.8 L114.2 341.0 L114.5 339.6 L114.8 340.2 L115.1 341.8 L115.4 341.8 L115.7 342.8 L116.0 342.2 L116.3 344.3 L116.6 346.1 L116.9 346.2 L117.2 346.7 L117.5 345.3 L117.8 346.7 L118.1 345.6 L118.4 347.7 L118.7 346.5 L119.0 346.9 L119.3 347.1 L119.6 349.2 L119.9 349.1 L120.2 349.4 L120.5 348.3 L120.8 350.3 L121.1 348.8 L121.4 352.7 L121.7 351.2 L122.0 352.1 L122.3 352.1 L122.6 350.8 L122.9 351.5 L123.2 353.5 L123.5 355.8 L123.8 353.1 L124.1 354.0 L124.4 355.2 L124.7 353.7 L125.0 354.1 L125.3 356.1 L125.6 357.0 L125.9 357.0 L126.2 359.7 L126.5 358.1 L126.8 359.2 L127.1 361.1 L127.4 361.6 L127.7 358.1 L128.0 359.9 L128.3 362.2 L128.6 359.5 L128.9 360.5 L129.2 360.4 L129.5 360.7 L129.8 361.4 L130.1 363.3 L130.4 365.0 L130.7 365.8 L131.0 364.3 L131.3 362.3 L131.6 365.0 L131.9 365.1 L132.2 366.3 L132.5 366.1 L132.8 364.4 L133.1 367.4 L133.4 364.8 L133.7 366.8 L134.0 368.4 L134.3 368.8 L134.6 370.6 L134.9 366.6 L135.2 369.9 L135.5 370.6 L135.8 369.8 L136.1 371.3 L136.4 369.6 L136.7 372.1 L137.0 372.3 L137.3 370.9 L137.6 371.6 L137.9 372.6 L138.2 372.4 L138.5 374.8 L138.8 374.1 L139.1 375.9 L139.4 376.1 L139.7 375.2 L140.0 375.2 L140.3 374.7 L140.6 375.3 L140.9 375.6 L141.2 377.4 L141.5 376.3 L141.8 377.8 L142.1 378.3 L142.4 377.9 L142.7 378.6 L143.0 381.0 L143.3 381.5 L143.6 379.0 L143.9 380.1 L144.2 380.3 L144.5 380.8 L144.8 383.3 L145.1 382.7 L145.4 383.7 L145.7 384.7 L146.0 382.4 L146.3 383.1 L146.6 383.8 L146.9 385.3 L147.2 384.3 L147.5 385.6 L147.8 386.5 L148.1 386.9 L148.4 386.4 L148.7 385.2 L149.0 384.7 L149.3 388.2 L149.6 387.8 L149.9 386.5 L150.2 387.3 L150.5 387.7 L150.8 386.6 L151.1 389.3 L151.4 388.3 L151.7 389.3 L152.0 390.8 L152.3 390.1 L152.6 391.2 L152.9 391.4 L153.2 391.2 L153.5 391.6 L153.8 394.0 L154.1 391.9 L154.4 394.3 L154.7 391.6 L155.0 393.8 L155.3 393.4 L155.6 392.6 L155.9 391.3 L156.2 396.0 L156.5 392.9 L156.8 393.4 L157.1 395.0 L157.4 395.2 L157.7 395.7 L158.0 395.3 L158.3 394.1 L158.6 397.2 L158.9 395.3 L159.2 396.9 L159.5 397.6 L159.8 398.5 L160.1 397.1 L160.4 397.2 L160.7 397.6 L161.0 395.9 L161.3 397.4 L161.6 397.3 L161.9 397.4 L162.2 399.2 L162.5 398.9 L162.8 401.4 L163.1 401.5 L163.4 397.7 L163.7 400.3 L164.0 399.2 L164.3 401.3 L164.6 401.0 L164.9 402.2 L165.2 401.7 L165.5 402.4 L165.8 401.4 L166.1 399.5 L166.4 400.8 L166.7 401.4 L167.0 402.1 L167.3 401.7 L167.6 405.1 L167.9 403.2 L168.2 405.2 L168.5 403.4 L168.8 406.1 L169.1 402.9 L169.4 405.3 L169.7 403.2 L170.0 405.5 L170.3 407.1 L170.6 403.5 L170.9 404.6 L171.2 406.2 L171.5 405.9 L171.8 404.7 L172.1 407.9 L172.4 406.8 L172.7 408.5 L173.0 407.6 L173.3 406.0 L173.6 407.0 L173.9 409.5 L174.2 406.4 L174.5 407.7 L174.8 409.2 L175.1 409.9 L175.4 409.9 L175.7 407.3 L176.0 411.8 L176.3 409.3 L176.6 409.7 L176.9 409.9 L177.2 409.8 L177.5 409.1 L177.8 410.1 L178.1 412.3 L178.4 409.2 L178.7 408.5 L179.0 411.9 L179.3 411.8 L179.6 412.4 L179.9 413.8 L180.2 411.1 L180.5 412.3 L180.8 412.9 L181.1 414.0 L181.4 413.9 L181.7 411.9 L182.0 411.4 L182.3 412.9 L182.6 411.5 L182.9 415.0 L183.2 413.4 L183.5 413.7 L183.8 413.3 L184.1 416.4 L184.4 415.1 L184.7 414.5 L185.0 416.0 L185.3 415.4 L185.6 416.4 L185.9 417.6 L186.2 415.9 L186.5 417.1 L186.8 417.3 L187.1 418.3 L187.4 417.9 L187.7 417.5 L188.0 416.9 L188.3 418.3 L188.6 416.9 L188.9 419.2 L189.2 418.7 L189.5 419.6 L189.8 418.5 L190.1 418.4 L190.4 418.5 L190.7 421.2 L191.0 419.9 L191.3 420.1 L191.6 418.5 L191.9 420.8 L192.2 418.6 L192.5 423.0 L192.8 421.3 L193.1 421.8 L193.4 420.3 L193.7 421.0 L194.0 423.2 L194.3 422.5 L194.6 423.5 L194.9 424.7 L195.2 424.2 L195.5 421.3 L195.8 422.6 L196.1 422.7 L196.4 423.2 L196.7 422.0 L197.0 422.2 L197.3 424.0 L197.6 424.4 L197.9 425.9 L198.2 425.1 L198.5 427.4 L198.8 423.7 L199.1 424.5 L199.4 426.6 L199.7 426.2 L200.0 425.6 L200.3 427.9 L200.6 428.5 L200.9 428.9 L201.2 427.1 L201.5 427.7 L201.8 428.2 L202.1 428.2 L202.4 429.6 L202.7 427.9 L203.0 429.2 L203.3 426.4 L203.6 430.0 L203.9 431.2 L204.2 429.4 L204.5 430.8 L204.8 427.8 L205.1 429.5 L205.4 428.2 L205.7 430.6 L206.0 431.0 L206.3 428.9 L206.6 429.7 L206.9 430.2 L207.2 433.5 L207.5 431.1 L207.8 431.5 L208.1 431.9 L208.4 432.0 L208.7 431.5 L209.0 430.4 L209.3 431.3 L209.6 434.2 L209.9 432.7 L210.2 432.1 L210.5 431.1 L210.8 432.8 L211.1 433.1 L211.4 432.4 L211.7 434.4 L212.0 432.8 L212.3 433.4 L212.6 434.8 L212.9 434.2 L213.2 435.4 L213.5 434.0 L213.8 433.9 L214.1 435.1 L214.4 435.0 L214.7 436.3 L215.0 435.5 L215.3 435.1 L215.6 435.8 L215.9 436.2 L216.2 434.3 L216.5 435.6 L216.8 435.5 L217.1 437.5 L217.4 435.6 L217.7 437.6 L218.0 435.0 L218.3 436.5 L218.6 438.0 L218.9 436.6 L219.2 438.4 L219.5 434.7 L219.8 437.3 L220.1 437.6 L220.4 437.4 L220.7 435.8 L221.0 438.6 L221.3 435.4 L221.6 439.2 L221.9 438.5 L222.2 439.5 L222.5 438.1 L222.8 437.2 L223.1 438.0 L223.4 438.2 L223.7 439.6 L224.0 438.6 L224.3 439.6 L224.6 439.8 L224.9 441.0 L225.2 437.0 L225.5 439.0 L225.8 440.4 L226.1 440.5 L226.4 439.1 L226.7 439.6 L227.0 439.9 L227.3 440.3 L227.6 439.5 L227.9 439.5 L228.2 439.1 L228.5 440.1 L228.8 442.3 L229.1 439.6 L229.4 442.0 L229.7 443.3 L230.0 441.4 L230.3 443.7 L230.6 441.2 L230.9 443.5 L231.2 441.6 L231.5 440.3 L231.8 442.3 L232.1 444.3 L232.4 441.4 L232.7 442.8 L233.0 441.1 L233.3 441.3 L233.6 443.0 L233.9 442.3 L234.2 443.3 L234.5 444.2 L234.8 441.4 L235.1 442.0 L235.4 443.0 L235.7 445.4 L236.0 442.7 L236.3 442.5 L236.6 443.7 L236.9 445.7 L237.2 442.6 L237.5 443.0 L237.8 443.5 L238.1 444.4 L238.4 446.0 L238.7 442.2 L239.0 441.7 L239.3 444.0 L239.6 444.5 L239.9 441.4 L240.2 443.3 L240.5 445.3 L240.8 443.6 L241.1 444.9 L241.4 444.6 L241.7 445.3 L242.0 445.1 L242.3 445.0 L242.6 446.3 L242.9 444.2 L243.2 445.2 L243.5 446.5 L243.8 444.6 L244.1 444.9 L244.4 444.5 L244.7 444.4 L245.0 448.0 L245.3 446.3 L245.6 448.1 L245.9 446.9 L246.2 446.2 L246.5 445.9 L246.8 446.6 L247.1 446.4 L247.4 447.6 L247.7 445.6 L248.0 446.9 L248.3 447.4 L248.6 446.7 L248.9 446.8 L249.2 447.8 L249.5 447.9 L249.8 447.2 L250.1 447.4 L250.4 446.8 L250.7 448.3 L251.0 447.5 L251.3 445.9 L251.6 447.5 L251.9 448.7 L252.2 448.4 L252.5 447.0 L252.8 449.1 L253.1 449.0 L253.4 449.1 L253.7 450.3 L254.0 448.1 L254.3 449.3 L254.6 448.4 L254.9 449.9 L255.2 450.2 L255.5 449.5 L255.8 449.9 L256.1 448.1 L256.4 449.9 L256.7 447.8 L257.0 451.7 L257.3 450.7 L257.6 447.6 L257.9 447.0 L258.2 451.1 L258.5 448.6 L258.8 450.4 L259.1 448.3 L259.4 450.0 L259.7 449.2 L260.0 450.8 L260.3 449.7 L260.6 452.0 L260.9 449.4 L261.2 451.9 L261.5 450.4 L261.8 451.1 L262.1 448.7 L262.4 448.5 L262.7 452.0 L263.0 449.3 L263.3 450.5 L263.6 450.6 L263.9 449.9 L264.2 451.3 L264.5 449.5 L264.8 449.8 L265.1 452.4 L265.4 450.4 L265.7 452.3 L266.0 452.3 L266.3 453.4 L266.6 452.2 L266.9 449.5 L267.2 451.0 L267.5 451.4 L267.8 453.4 L268.1 452.4 L268.4 451.5 L268.7 452.7 L269.0 451.8 L269.3 453.0 L269.6 452.6 L269.9 453.8 L270.2 452.9 L270.5 453.8 L270.8 452.6 L271.1 453.6 L271.4 452.6 L271.7 453.6 L272.0 453.2 L272.3 452.8 L272.6 452.5 L272.9 452.8 L273.2 453.8 L273.5 450.7 L273.8 454.8 L274.1 450.9 L274.4 453.2 L274.7 453.1 L275.0 454.5 L275.3 453.9 L275.6 453.7 L275.9 453.9 L276.2 455.0 L276.5 456.4 L276.8 454.4 L277.1 451.6 L277.4 453.6 L277.7 454.7 L278.0 456.7 L278.3 453.4 L278.6 453.9 L278.9 455.1 L279.2 454.9 L279.5 453.0 L279.8 455.8 L280.1 453.2 L280.4 454.5 L280.7 456.5 L281.0 453.4 L281.3 454.6 L281.6 457.1 L281.9 454.9 L282.2 454.0 L282.5 454.6 L282.8 456.4 L283.1 453.6 L283.4 454.8 L283.7 453.9 L284.0 454.3 L284.3 457.3 L284.6 455.8 L284.9 455.4 L285.2 456.5 L285.5 455.2 L285.8 454.7 L286.1 457.6 L286.4 457.4 L286.7 455.4 L287.0 457.3 L287.3 458.3 L287.6 457.2 L287.9 457.3 L288.2 455.2 L288.5 456.6 L288.8 454.6 L289.1 458.3 L289.4 456.8 L289.7 458.7 L290.0 456.2 L290.3 458.3 L290.6 455.4 L290.9 456.8 L291.2 458.1 L291.5 457.9 L291.8 457.5 L292.1 455.6 L292.4 459.2 L292.7 458.5 L293.0 459.2 L293.3 459.2 L293.6 457.4 L293.9 458.4 L294.2 460.5 L294.5 457.1 L294.8 458.6 L295.1 457.5 L295.4 460.4 L295.7 458.5 L296.0 457.1 L296.3 457.7 L296.6 456.8 L296.9 456.1 L297.2 456.1 L297.5 457.8 L297.8 457.4 L298.1 459.0 L298.4 457.8 L298.7 459.2 L299.0 461.1 L299.3 457.6 L299.6 457.6 L299.9 460.3 L300.2 461.7 L300.5 458.2 L300.8 457.2 L301.1 459.0 L301.4 458.9 L301.7 460.3 L302.0 458.2 L302.3 459.2 L302.6 459.2 L302.9 457.8 L303.2 457.8 L303.5 460.3 L303.8 460.5 L304.1 458.9 L304.4 461.8 L304.7 461.1 L305.0 460.6 L305.3 460.8 L305.6 460.6 L305.9 461.1 L306.2 461.3 L306.5 460.4 L306.8 457.8 L307.1 460.2 L307.4 459.4 L307.7 459.0 L308.0 461.2 L308.3 458.4 L308.6 461.6 L308.9 459.9 L309.2 459.2 L309.5 459.7 L309.8 463.3 L310.1 462.6 L310.4 460.5 L310.7 462.2 L311.0 463.1 L311.3 459.9 L311.6 460.6 L311.9 462.2 L312.2 461.6 L312.5 460.7 L312.8 463.1 L313.1 461.8 L313.4 462.2 L313.7 463.8 L314.0 461.9 L314.3 463.8 L314.6 461.7 L314.9 461.2 L315.2 461.6 L315.5 462.5 L315.8 462.3 L316.1 462.0 L316.4 459.7 L316.7 460.3 L317.0 461.3 L317.3 462.6 L317.6 463.5 L317.9 459.3 L318.2 461.6 L318.5 461.3 L318.8 461.7 L319.1 462.2 L319.4 460.9 L319.7 460.4 L320.0 463.3 L320.3 463.0 L320.6 461.6 L320.9 462.0 L321.2 461.3 L321.5 460.5 L321.8 463.1 L322.1 461.5 L322.4 461.0 L322.7 461.6 L323.0 464.4 L323.3 463.0 L323.6 462.8 L323.9 462.6 L324.2 463.6 L324.5 463.5 L324.8 461.1 L325.1 462.4 L325.4 461.9 L325.7 463.0 L326.0 462.7 L326.3 460.4 L326.6 464.3 L326.9 463.2 L327.2 460.8 L327.5 464.4 L327.8 463.2 L328.1 463.7 L328.4 463.1 L328.7 463.3 L329.0 462.6 L329.3 461.2 L329.6 462.5 L329.9 463.5 L330.2 463.4 L330.5 464.2 L330.8 463.3 L331.1 461.0 L331.4 464.4 L331.7 462.5 L332.0 461.9 L332.3 463.2 L332.6 461.9 L332.9 464.1 L333.2 462.5 L333.5 466.1 L333.8 463.4 L334.1 463.1 L334.4 463.0 L334.7 461.4 L335.0 462.8 L335.3 463.0 L335.6 463.5 L335.9 461.6 L336.2 464.1 L336.5 465.6 L336.8 463.6 L337.1 464.1 L337.4 464.7 L337.7 463.2 L338.0 463.7 L338.3 465.5 L338.6 464.6 L338.9 462.9 L339.2 462.3 L339.5 467.0 L339.8 465.1 L340.1 462.6 L340.4 464.8 L340.7 465.5 L341.0 464.9 L341.3 462.5 L341.6 467.0 L341.9 465.6 L342.2 464.7 L342.5 465.8 L342.8 464.7 L343.1 464.7 L343.4 466.2 L343.7 462.7 L344.0 466.4 L344.3 465.7 L344.6 466.2 L344.9 466.4 L345.2 467.2 L345.5 467.1 L345.8 466.5 L346.1 465.0 L346.4 466.3 L346.7 464.9 L347.0 464.4 L347.3 466.1 L347.6 466.0 L347.9 467.1 L348.2 463.1 L348.5 466.4 L348.8 466.5 L349.1 465.9 L349.4 467.6 L349.7 464.7 L350.0 466.2 L350.3 465.4 L350.6 465.9 L350.9 464.7 L351.2 465.8 L351.5 466.8 L351.8 466.1 L352.1 466.4 L352.4 465.1 L352.7 468.0 L353.0 465.2 L353.3 466.1 L353.6 466.9 L353.9 465.9 L354.2 467.1 L354.5 466.4 L354.8 468.3 L355.1 466.9 L355.4 466.8 L355.7 465.3 L356.0 466.9 L356.3 467.6 L356.6 466.9 L356.9 465.3 L357.2 465.7 L357.5 466.1 L357.8 466.5 L358.1 464.8 L358.4 468.8 L358.7 466.4 L359.0 466.7 L359.3 466.0 L359.6 466.5 L359.9 468.9 L360.2 465.5 L360.5 466.0 L360.8 465.4 L361.1 466.0 L361.4 468.5 L361.7 465.9 L362.0 466.2 L362.3 464.5 L362.6 466.3 L362.9 467.1 L363.2 466.2 L363.5 466.3 L363.8 467.8 L364.1 467.5 L364.4 466.8 L364.7 466.0 L365.0 465.1 L365.3 469.0 L365.6 465.1" stroke="#ff0000" stroke-width="2.5" fill="none" stroke-linejoin="round"/>
<path d="M90.3 367.6V379.9M101.8 304.1V356.1M124.3 372.0V384.8M146.6 379.6V411.4M169.0 386.8V410.6M202.7 398.9V443.8M247.9 425.1V436.9M304.1 454.6V462.5M360.3 454.2V460.7" stroke="#0000ff" stroke-width="1.7" fill="none"/>
<path d="M88.35 367.8H92.25M88.35 379.7H92.25M99.85 304.3H103.75M99.85 355.9H103.75M122.35 372.2H126.25M122.35 384.6H126.25M144.65 379.8H148.55M144.65 411.2H148.55M167.05 387.0H170.95M167.05 410.4H170.95M200.75 399.1H204.65M200.75 443.6H204.65M245.95 425.3H249.85M245.95 436.7H249.85M302.15 454.8H306.05M302.15 462.3H306.05M358.35 454.4H362.25M358.35 460.5H362.25" stroke="#0000ff" stroke-width="2.0" fill="none"/>
<circle cx="90.3" cy="373.7" r="2.1" fill="#0000ff"/>
<circle cx="101.8" cy="330.0" r="2.1" fill="#0000ff"/>
<circle cx="124.3" cy="378.8" r="2.1" fill="#0000ff"/>
<circle cx="146.6" cy="395.4" r="2.1" fill="#0000ff"/>
<circle cx="169.0" cy="398.7" r="2.1" fill="#0000ff"/>
<circle cx="202.7" cy="421.8" r="2.1" fill="#0000ff"/>
<circle cx="247.9" cy="431.0" r="2.1" fill="#0000ff"/>
<circle cx="304.1" cy="458.4" r="2.1" fill="#0000ff"/>
<circle cx="360.3" cy="457.3" r="2.1" fill="#0000ff"/>
</g>
<path d="M70.15 304.0V482.8" stroke="#0000ff" stroke-width="1.5" fill="none"/>
<path d="M368.5 304.0V482.8" stroke="#ff0000" stroke-width="1.5" fill="none"/>
<path d="M69.4 482.3H369.25" stroke="#000" stroke-width="1.5" fill="none"/>
<path d="M65 479.40H70.15M65 453.70H70.15M65 428.00H70.15M65 402.30H70.15M65 376.60H70.15M65 350.90H70.15M65 325.20H70.15" stroke="#0000ff" stroke-width="1.4" fill="none"/>
<path d="M368.5 479.60H373M368.5 456.03H373M368.5 432.45H373M368.5 408.88H373M368.5 385.30H373M368.5 361.73H373M368.5 338.15H373M368.5 314.58H373" stroke="#ff0000" stroke-width="1.4" fill="none"/>
<path d="M84.40 482.3V487.3M140.58 482.3V487.3M196.76 482.3V487.3M252.94 482.3V487.3M309.12 482.3V487.3M365.30 482.3V487.3" stroke="#000" stroke-width="1.35" fill="none"/>
<g font-size="11.4" fill="#0000ff">
<text x="63.9" y="483.40" text-anchor="end">0</text>
<text x="63.9" y="457.70" text-anchor="end">1</text>
<text x="63.9" y="432.00" text-anchor="end">2</text>
<text x="63.9" y="406.30" text-anchor="end">3</text>
<text x="63.9" y="380.60" text-anchor="end">4</text>
<text x="63.9" y="354.90" text-anchor="end">5</text>
<text x="54.4" y="331.3" text-anchor="end">6x10</text>
<text x="55" y="323.8" font-size="7.6">23</text>
</g>
<g font-size="11.4" fill="#ff0000">
<text x="376.2" y="483.15">0</text>
<text x="376.2" y="459.58">5</text>
<text x="376.2" y="436.00">10</text>
<text x="376.2" y="412.43">15</text>
<text x="376.2" y="388.85">20</text>
<text x="376.2" y="365.28">25</text>
<text x="376.2" y="341.70">30</text>
<text x="376.2" y="318.13">35</text>
</g>
<g font-size="11.4" fill="#000">
<text x="84.70" y="499.6" text-anchor="middle">0.0</text>
<text x="140.88" y="499.6" text-anchor="middle">0.5</text>
<text x="197.06" y="499.6" text-anchor="middle">1.0</text>
<text x="253.24" y="499.6" text-anchor="middle">1.5</text>
<text x="309.42" y="499.6" text-anchor="middle">2.0</text>
<text x="365.60" y="499.6" text-anchor="middle">2.5</text>
</g>
<text x="219.2" y="519.3" font-size="16.5" text-anchor="middle">time (µs)</text>
<text transform="translate(19.6 391.5) rotate(-90)" font-size="16.5" text-anchor="middle" fill="#0000ff">n<tspan font-size="11.2" dy="4.2">e</tspan><tspan dy="-4.2"> (r = 0) (m</tspan><tspan font-size="12" dy="-9.4">-3</tspan><tspan dy="9.4">)</tspan></text>
<text transform="translate(396.6 391.8) rotate(90)" font-size="16.5" text-anchor="middle" fill="#ff0000">current (A)</text>
<text x="-1" y="281.1" font-size="22.8">(b)</text>
<g id="legb">
<rect x="217.9" y="333.7" width="102.2" height="41.2" rx="1.6" fill="#fff" stroke="#7e7e7e" stroke-width="1.5"/>
<path d="M231.3 344.4H241.7M236.5 339.2V349.6" stroke="#0000ff" stroke-width="2.5" fill="none"/>
<path d="M221 365.8H252" stroke="#ff0000" stroke-width="2.2" fill="none"/>
<text x="259.6" y="349.2" font-size="16.5">n<tspan font-size="11.2" dy="3.6">e</tspan><tspan dy="-3.6">(r = 0)</tspan></text>
<text x="259.6" y="370.2" font-size="16.5">current</text>
</g>
</g>
</svg>
</body></html>
